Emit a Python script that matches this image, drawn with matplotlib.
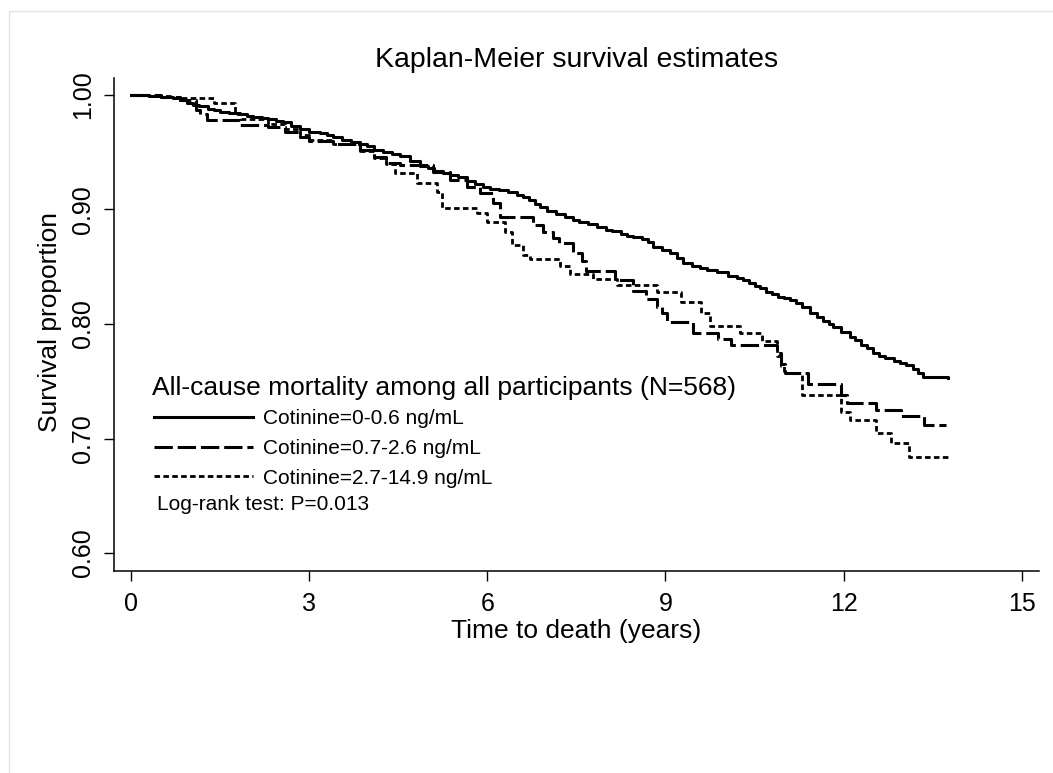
import matplotlib.pyplot as plt
from matplotlib.lines import Line2D
from matplotlib.patches import Rectangle

plt.rcParams["font.family"] = ["Liberation Sans", "DejaVu Sans"]

# Kaplan-Meier step points (years, survival proportion) by cotinine group
t_low = [0, 0.3, 0.5, 0.7, 0.83, 0.95, 1.04, 1.15, 1.3, 1.4, 1.5, 1.65, 1.83,
         1.95, 2.05, 2.2, 2.3, 2.45, 2.56, 2.7, 2.85, 3.0, 3.18, 3.3, 3.4,
         3.55, 3.7, 3.85, 3.97, 4.1, 4.25, 4.4, 4.53, 4.7, 4.87, 5.0, 5.1,
         5.25, 5.37, 5.5, 5.65, 5.8, 5.93, 6.05, 6.2, 6.35, 6.5, 6.6, 6.7,
         6.8, 6.89, 7.0, 7.15, 7.3, 7.44, 7.55, 7.7, 7.85, 8.0, 8.1, 8.25,
         8.35, 8.45, 8.6, 8.7, 8.79, 8.95, 9.07, 9.2, 9.3, 9.45, 9.58, 9.7,
         9.86, 10.05, 10.2, 10.3, 10.4, 10.5, 10.6, 10.7, 10.8, 10.9, 11.0,
         11.1, 11.2, 11.3, 11.43, 11.55, 11.65, 11.75, 11.82, 11.95, 12.1,
         12.2, 12.3, 12.4, 12.5, 12.6, 12.7, 12.85, 12.95, 13.05, 13.17,
         13.25, 13.33, 13.75]
s_low = [1.000, 0.999, 0.998, 0.997, 0.996, 0.993, 0.991, 0.990, 0.988, 0.987,
         0.985, 0.984, 0.983, 0.982, 0.981, 0.980, 0.979, 0.977, 0.976, 0.973,
         0.970, 0.968, 0.967, 0.965, 0.963, 0.961, 0.959, 0.957, 0.955, 0.952,
         0.950, 0.948, 0.947, 0.942, 0.938, 0.936, 0.934, 0.932, 0.930, 0.928,
         0.925, 0.922, 0.920, 0.918, 0.917, 0.915, 0.913, 0.911, 0.908, 0.905,
         0.902, 0.899, 0.896, 0.893, 0.891, 0.889, 0.887, 0.885, 0.882, 0.881,
         0.879, 0.877, 0.876, 0.874, 0.872, 0.867, 0.865, 0.862, 0.858, 0.853,
         0.851, 0.849, 0.847, 0.845, 0.842, 0.840, 0.838, 0.836, 0.833, 0.831,
         0.828, 0.826, 0.824, 0.823, 0.821, 0.818, 0.815, 0.810, 0.806, 0.803,
         0.800, 0.797, 0.793, 0.789, 0.786, 0.782, 0.779, 0.775, 0.772, 0.770,
         0.768, 0.766, 0.764, 0.761, 0.757, 0.754, 0.753]

t_mid = [0, 0.5, 0.83, 1.1, 1.16, 1.28, 1.83, 2.3, 2.6, 2.85, 3.0, 3.4, 3.86,
         4.1, 4.3, 4.53, 5.08, 5.37, 5.65, 5.88, 6.1, 6.21, 6.77, 6.94, 7.11,
         7.2, 7.45, 7.59, 7.67, 8.15, 8.46, 8.68, 8.85, 8.95, 9.02, 9.47, 9.88,
         10.1, 10.88, 10.95, 11.02, 11.4, 11.95, 12.05, 12.55, 12.97, 13.35,
         13.72]
s_mid = [1.000, 0.998, 0.996, 0.987, 0.983, 0.978, 0.974, 0.972, 0.968, 0.963,
         0.960, 0.957, 0.952, 0.946, 0.941, 0.939, 0.933, 0.926, 0.920, 0.914,
         0.906, 0.893, 0.886, 0.880, 0.875, 0.871, 0.862, 0.855, 0.846, 0.838,
         0.829, 0.822, 0.815, 0.810, 0.802, 0.792, 0.787, 0.782, 0.775, 0.765,
         0.757, 0.748, 0.738, 0.731, 0.725, 0.720, 0.712, 0.712]

t_high = [0, 0.3, 0.7, 1.4, 1.75, 1.85, 2.3, 2.6, 2.85, 3.0, 3.4, 3.86, 4.1,
          4.3, 4.45, 4.81, 5.15, 5.24, 5.82, 6.0, 6.3, 6.41, 6.6, 6.72, 7.22,
          7.39, 7.78, 8.18, 8.85, 9.27, 9.6, 9.75, 10.25, 10.62, 10.88, 10.95,
          11.0, 11.3, 11.95, 12.1, 12.55, 12.8, 13.1, 13.75]
s_high = [1.000, 0.999, 0.997, 0.993, 0.983, 0.979, 0.975, 0.970, 0.965, 0.961,
          0.957, 0.951, 0.945, 0.940, 0.932, 0.923, 0.915, 0.901, 0.897, 0.889,
          0.880, 0.869, 0.860, 0.857, 0.851, 0.844, 0.839, 0.834, 0.828, 0.819,
          0.810, 0.798, 0.792, 0.785, 0.772, 0.763, 0.757, 0.738, 0.723, 0.716,
          0.705, 0.696, 0.684, 0.684]

group_labels = ["Cotinine=0-0.6 ng/mL", "Cotinine=0.7-2.6 ng/mL",
                "Cotinine=2.7-14.9 ng/mL"]
x_ticks = [0, 3, 6, 9, 12, 15]
y_ticks = [0.60, 0.70, 0.80, 0.90, 1.00]

W, H = 1053, 773


def fx(px):
    return px / W


def fy(py):
    return 1 - py / H


styles = [
    dict(linestyle="-", linewidth=2.2),
    dict(linestyle=(0, (6, 1.6)), linewidth=2.2),
    dict(linestyle=(0, (2, 1.2)), linewidth=2.0),
]

fig = plt.figure(figsize=(W / 100, H / 100), dpi=100)
fig.add_artist(Rectangle((fx(9), fy(780)), fx(1060) - fx(9), fy(11) - fy(780),
                         transform=fig.transFigure, fill=False,
                         edgecolor="#e4e4e4", linewidth=1))

ax = fig.add_axes([fx(114), fy(571), fx(1039) - fx(114), fy(78) - fy(571)])
for t, s, st in zip([t_low, t_mid, t_high], [s_low, s_mid, s_high], styles):
    ax.plot(t, s, drawstyle="steps-post", color="black", **st)

ax.set_xlim(-0.286, 15.29)
ax.set_ylim(0.5843, 1.0148)
ax.set_xticks(x_ticks)
ax.set_yticks(y_ticks)
ax.set_yticklabels([f"{v:.2f}" for v in y_ticks], rotation=90, va="center")
ax.spines["top"].set_visible(False)
ax.spines["right"].set_visible(False)
for side in ("left", "bottom"):
    ax.spines[side].set_linewidth(1.1)
ax.tick_params(axis="both", direction="out", length=7.5, width=1.0,
               labelsize=18)
ax.tick_params(axis="x", pad=7.5)
ax.tick_params(axis="y", pad=6)

fig.text(fx(576.5), fy(67), "Kaplan-Meier survival estimates", fontsize=20.5,
         ha="center", va="baseline")
fig.text(fx(576.5), fy(638), "Time to death (years)", fontsize=19,
         ha="center", va="baseline")
fig.text(fx(57), fy(322), "Survival proportion", fontsize=19, rotation=90,
         rotation_mode="anchor", ha="center", va="baseline")

# key drawn inside the plot area
fig.text(fx(152), fy(395), "All-cause mortality among all participants (N=568)",
         fontsize=19, ha="left", va="baseline")
for i, (lab, st) in enumerate(zip(group_labels, styles)):
    y = [417, 447, 476][i]
    fig.add_artist(Line2D([fx(154), fx(253)], [fy(y), fy(y)],
                          transform=fig.transFigure, color="black", **st))
    fig.text(fx(263), fy(y + 7.5), lab, fontsize=15, ha="left",
             va="baseline")
fig.text(fx(157), fy(510), "Log-rank test: P=0.013", fontsize=15,
         ha="left", va="baseline")

fig.savefig("out.png", dpi=100)
